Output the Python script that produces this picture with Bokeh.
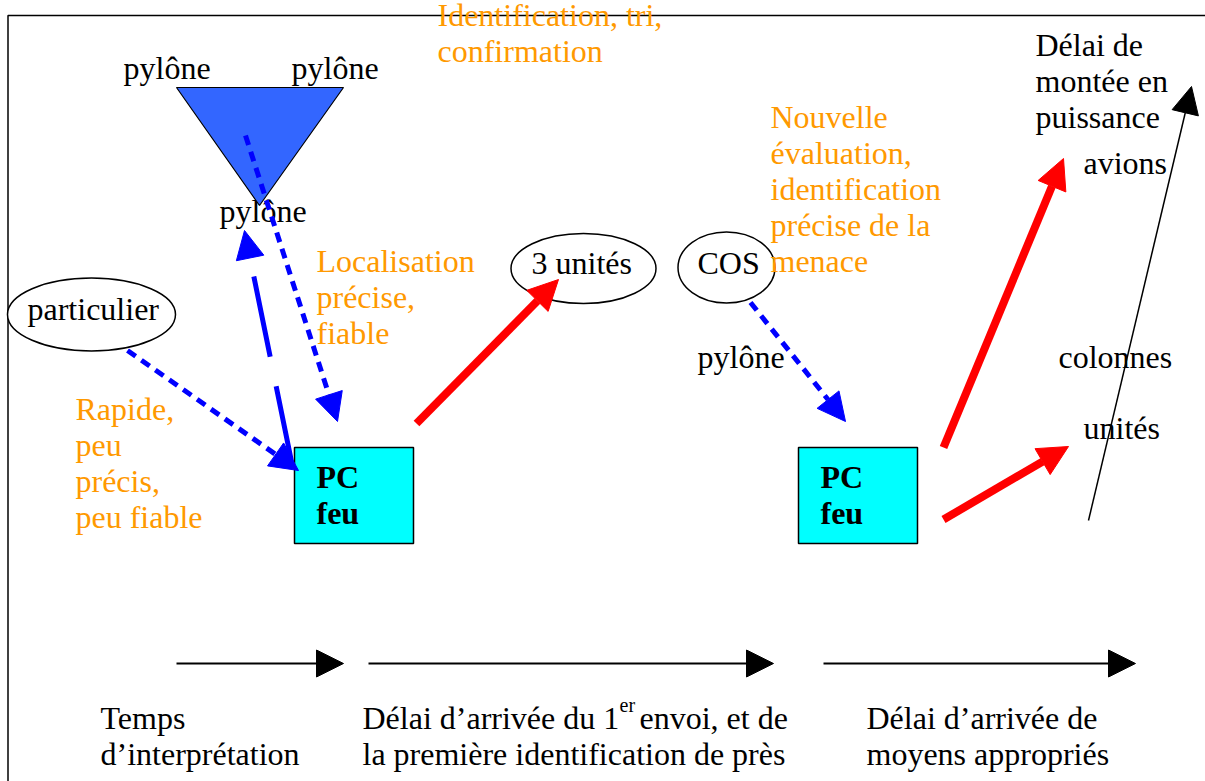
from bokeh.plotting import figure
from bokeh.models import Range1d, Arrow, NormalHead
from bokeh.core.properties import value
from bokeh.embed import file_html
from bokeh.resources import INLINE

FONT = "Liberation Serif"
FS = "32px"
ORANGE = "#FF9900"

# ---- diagram content (coordinates in reference pixels, y downwards) ----
black_labels = ["pylône", "pylône", "pylône", "particulier", "3 unités", "COS",
                "pylône", "Délai de", "montée en", "puissance", "avions",
                "colonnes", "unités"]
black_x = [123, 291, 219, 27, 531, 697, 697, 1035, 1035, 1035, 1083, 1058, 1083]
black_y = [67, 67, 210, 308, 262, 262, 356, 44, 80, 116, 162, 356, 427]

orange_labels = ["Identification, tri,", "confirmation", "Localisation", "précise,",
                 "fiable", "Nouvelle", "évaluation,", "identification",
                 "précise de la", "menace", "Rapide,", "peu", "précis,", "peu fiable"]
orange_x = [437, 437, 316, 316, 316, 770, 770, 770, 770, 770, 75, 75, 75, 75]
orange_y = [14, 50, 260, 296, 332, 116, 152, 188, 224, 260, 408, 444, 480, 516]

bottom_labels = ["Temps", "d’interprétation", "Délai d’arrivée du 1", "envoi, et de",
                 "la première identification de près", "Délai d’arrivée de",
                 "moyens appropriés"]
bottom_x = [100, 100, 362, 639, 362, 866, 866]
bottom_y = [717, 753, 717, 717, 753, 717, 753]
sup_label = ["er"]
sup_x = [619]
sup_y = [704]

box_left = [294, 798]
box_right = [413, 917]
box_top = [447, 447]
box_bottom = [543, 543]
box_text = [["PC", "feu"], ["PC", "feu"]]
box_text_y = [476, 512]

ell_x = [91, 583, 726]
ell_y = [314, 268, 267]
ell_w = [168, 145, 97]
ell_h = [73, 70, 71]

tri_x = [176, 343, 259]
tri_y = [87, 87, 205]

blue_dotted = [((127, 350), (298, 470)), ((245, 135), (337, 421)), ((750, 302), (845, 421))]
blue_dashed = [((292, 466), (244, 230))]
red_arrows = [((416, 423), (558, 279)), ((943, 447), (1063, 158)), ((943, 519), (1068, 446))]
thin_arrows = [((1088, 520), (1191, 86))]
time_arrows = [((176, 663), (343, 663)), ((368, 663), (773, 663)), ((823, 663), (1135, 663))]

# ---- figure: data units == reference pixels ----
p = figure(width=1205, height=781, output_backend="svg", toolbar_location=None,
           x_range=Range1d(0, 1205), y_range=Range1d(781, 0),
           min_border=0, min_border_left=0, min_border_right=0,
           min_border_top=0, min_border_bottom=0)
p.axis.visible = False
p.grid.visible = False
p.outline_line_color = None
p.background_fill_color = "white"
p.border_fill_color = "white"

# frame
p.line([7.5, 7.5, 1205], [781, 15, 15], line_color="black", line_width=1.5)

# "pylône" under triangle first (triangle overlaps it)
p.text(x=[black_x[2]], y=[black_y[2]], text=[black_labels[2]], text_font=value(FONT),
       text_font_size=FS, text_color="black", text_baseline="alphabetic")

p.patch(tri_x, tri_y, fill_color="#3366FF", line_color="black", line_width=1.2)

p.ellipse(x=ell_x, y=ell_y, width=ell_w, height=ell_h, fill_color="white",
          line_color="black", line_width=1.5)

p.quad(left=box_left, right=box_right, top=box_top, bottom=box_bottom,
       fill_color="#00FFFF", line_color="black", line_width=1.5)

idx = [i for i in range(len(black_labels)) if i != 2]
p.text(x=[black_x[i] for i in idx], y=[black_y[i] for i in idx],
       text=[black_labels[i] for i in idx], text_font=value(FONT), text_font_size=FS,
       text_color="black", text_baseline="alphabetic")

p.text(x=orange_x, y=orange_y, text=orange_labels, text_font=value(FONT),
       text_font_size=FS, text_color=ORANGE, text_baseline="alphabetic")

p.text(x=bottom_x, y=bottom_y, text=bottom_labels, text_font=value(FONT),
       text_font_size=FS, text_color="black", text_baseline="alphabetic")
p.text(x=sup_x, y=sup_y, text=sup_label, text_font=value(FONT),
       text_font_size="20px", text_color="black", text_baseline="alphabetic")

for i in range(len(box_left)):
    for j, t in enumerate(box_text[i]):
        p.text(x=[box_left[i] + 22], y=[box_text_y[j]], text=[t], text_font=value(FONT),
               text_font_size=FS, text_font_style="bold", text_color="black",
               text_baseline="alphabetic")


def add_arrows(specs, color, width, dash, head_size):
    for (x0, y0), (x1, y1) in specs:
        p.add_layout(Arrow(x_start=x0, y_start=y0, x_end=x1, y_end=y1,
                           line_color=color, line_width=width, line_dash=dash,
                           end=NormalHead(size=head_size, fill_color=color,
                                          line_color=color, line_width=1)))


add_arrows(blue_dotted, "#0000FF", 5, "10 7", 28)
add_arrows(blue_dashed, "#0000FF", 5, "82 30", 28)
add_arrows(red_arrows, "#FF0000", 8, "solid", 30)
add_arrows(thin_arrows, "black", 1.5, "solid", 27)
add_arrows(time_arrows, "black", 2, "solid", 27)

open("out.html", "w").write(file_html(p, INLINE))
